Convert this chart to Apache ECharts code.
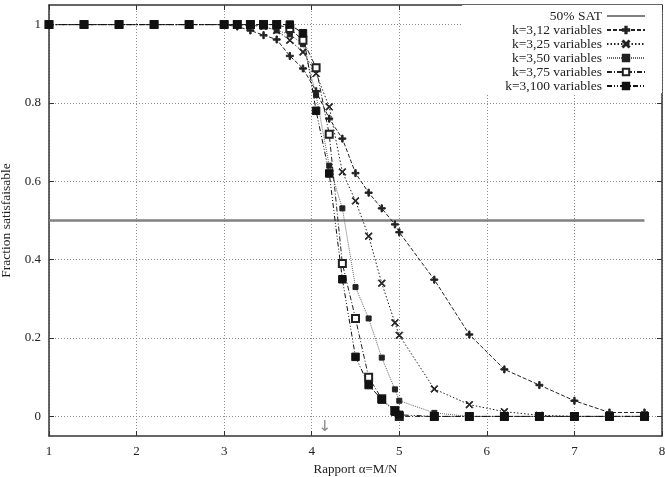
<!DOCTYPE html>
<html>
<head>
<meta charset="UTF-8">
<title>Fraction satisfaisable</title>
<script src="https://cdn.jsdelivr.net/npm/echarts@6/dist/echarts.min.js"></script>
<style>
  body { margin: 0; background: #fff; }
  #main { width: 665px; height: 477px; }
</style>
</head>
<body>
<div id="main"></div>
<script>
// rapport alpha = M/N (abscisses communes a toutes les courbes)
var ratios = [1.0, 1.4, 1.8, 2.2, 2.6, 3.0, 3.15, 3.3, 3.45, 3.6, 3.75, 3.9, 4.05, 4.2, 4.35,
              4.5, 4.65, 4.8, 4.95, 5.0, 5.4, 5.8, 6.2, 6.6, 7.0, 7.4, 7.8];
// fraction satisfaisable, k=3
var n12  = [1, 1, 1, 1, 1, 1, 0.995, 0.985, 0.973, 0.962, 0.92, 0.888, 0.83, 0.76, 0.709,
            0.621, 0.571, 0.531, 0.49, 0.47, 0.349, 0.209, 0.12, 0.08, 0.04, 0.01, 0.01];
var n25  = [1, 1, 1, 1, 1, 1, 1, 0.998, 0.995, 0.985, 0.96, 0.93, 0.875, 0.79, 0.624,
            0.55, 0.46, 0.34, 0.239, 0.207, 0.07, 0.03, 0.012, 0.003, 0, 0, 0];
var n50  = [1, 1, 1, 1, 1, 1, 1, 1, 0.995, 0.985, 0.975, 0.95, 0.82, 0.64, 0.531,
            0.33, 0.25, 0.15, 0.069, 0.04, 0.009, 0, 0, 0, 0, 0, 0];
var n75  = [1, 1, 1, 1, 1, 1, 1, 1, 1, 1, 0.99, 0.96, 0.89, 0.72, 0.39,
            0.25, 0.10, 0.045, 0.015, 0, 0, 0, 0, 0, 0, 0, 0];
var n100 = [1, 1, 1, 1, 1, 1, 1, 1, 1, 1, 1, 0.978, 0.78, 0.62, 0.35,
            0.152, 0.08, 0.043, 0.012, 0.004, 0, 0, 0, 0, 0, 0, 0];
var sat50 = [[1, 0.5], [7.8, 0.5]];
var arrowAt = [4.15, -0.027];

var xTicks = [1, 2, 3, 4, 5, 6, 7, 8];
var yTicks = [0, 0.2, 0.4, 0.6, 0.8, 1];

var font = "'Liberation Serif', 'DejaVu Serif', serif";
var ink = '#222';

function pairs(vals) {
    return ratios.map(function (x, i) { return [x, vals[i]]; });
}

function curve(name, vals, symbol, size, dash, color, lineColor) {
    return {
        name: name,
        type: 'line',
        data: pairs(vals),
        symbol: symbol,
        symbolSize: size,
        lineStyle: { color: lineColor || color, width: 1, type: dash },
        itemStyle: { color: color, borderColor: color, borderWidth: 1 },
        emphasis: { disabled: true },
        z: 3
    };
}

var plusPath = 'path://M4,0H6V4H10V6H6V10H4V6H0V4H4Z';
var crossPath = 'path://M1,0L5,4L9,0L10,1L6,5L10,9L9,10L5,6L1,10L0,9L4,5L0,1Z';

var chart = echarts.init(document.getElementById('main'));

var gridLine = { show: true, lineStyle: { color: '#8c8c8c', width: 1, type: [1, 2] } };
var frame = { show: true, onZero: false, lineStyle: { color: '#333', width: 1.5 } };
var ticks = { show: true, inside: true, length: 5, lineStyle: { color: '#333' } };

chart.setOption({
    animation: false,
    backgroundColor: '#fff',
    textStyle: { fontFamily: font, color: ink },
    grid: { left: 49, right: 3, top: 5, bottom: 41, outerBoundsMode: 'none', containLabel: false },
    legend: {
        orient: 'vertical',
        right: 3,
        top: 5,
        align: 'right',
        padding: [4, 16, 0, 43],
        itemGap: 0,
        itemWidth: 38,
        itemHeight: 8,
        backgroundColor: '#fff',
        textStyle: { fontFamily: font, fontSize: 13.5, lineHeight: 14, color: ink },
        data: [
            { name: '50% SAT', itemStyle: { opacity: 0 } },
            'k=3,12 variables', 'k=3,25 variables', 'k=3,50 variables',
            'k=3,75 variables', 'k=3,100 variables'
        ]
    },
    xAxis: [{
        type: 'value', min: 1, max: 8, interval: 1,
        name: 'Rapport α=M/N', nameLocation: 'middle', nameGap: 25,
        nameTextStyle: { fontFamily: font, fontSize: 13, color: ink },
        axisLine: frame,
        axisTick: ticks,
        axisLabel: { fontFamily: font, fontSize: 13, color: ink, margin: 9,
                     customValues: xTicks },
        splitLine: gridLine
    }, {
        type: 'value', min: 1, max: 8, interval: 1, position: 'top',
        axisLine: frame,
        axisTick: ticks,
        axisLabel: { show: false },
        splitLine: { show: false }
    }],
    yAxis: [{
        type: 'value', min: -0.05, max: 1.05,
        name: 'Fraction satisfaisable', nameLocation: 'middle', nameGap: 36, nameRotate: 90,
        nameTextStyle: { fontFamily: font, fontSize: 13.5, color: ink },
        axisLine: frame,
        axisTick: Object.assign({ customValues: yTicks }, ticks),
        axisLabel: { fontFamily: font, fontSize: 13, color: ink, margin: 8,
                     customValues: yTicks },
        splitLine: gridLine
    }, {
        type: 'value', min: -0.05, max: 1.05, position: 'right',
        axisLine: frame,
        axisTick: Object.assign({ customValues: yTicks }, ticks),
        axisLabel: { show: false },
        splitLine: { show: false }
    }],
    series: [
        {
            name: '50% SAT', type: 'line', data: sat50, symbol: 'none',
            lineStyle: { color: '#808080', width: 2.5 },
            itemStyle: { color: '#808080' },
            emphasis: { disabled: true }, z: 2
        },
        curve('k=3,12 variables', n12, plusPath, 7, [4, 2], '#222'),
        curve('k=3,25 variables', n25, crossPath, 7, [1.5, 2], '#222'),
        curve('k=3,50 variables', n50, 'rect', 5, [1, 1], '#222', '#666'),
        curve('k=3,75 variables', n75, 'emptyRect', 7, [5, 2, 1, 2], '#222'),
        curve('k=3,100 variables', n100, 'rect', 7.5, [5, 2, 1, 2, 1, 2], '#111'),
        {
            type: 'scatter', data: [arrowAt], symbolSize: 0, silent: true,
            label: { show: true, position: 'inside', formatter: '↓',
                     fontSize: 15, color: '#666', fontFamily: "'DejaVu Sans', sans-serif" }
        }
    ]
});
</script>
</body>
</html>
